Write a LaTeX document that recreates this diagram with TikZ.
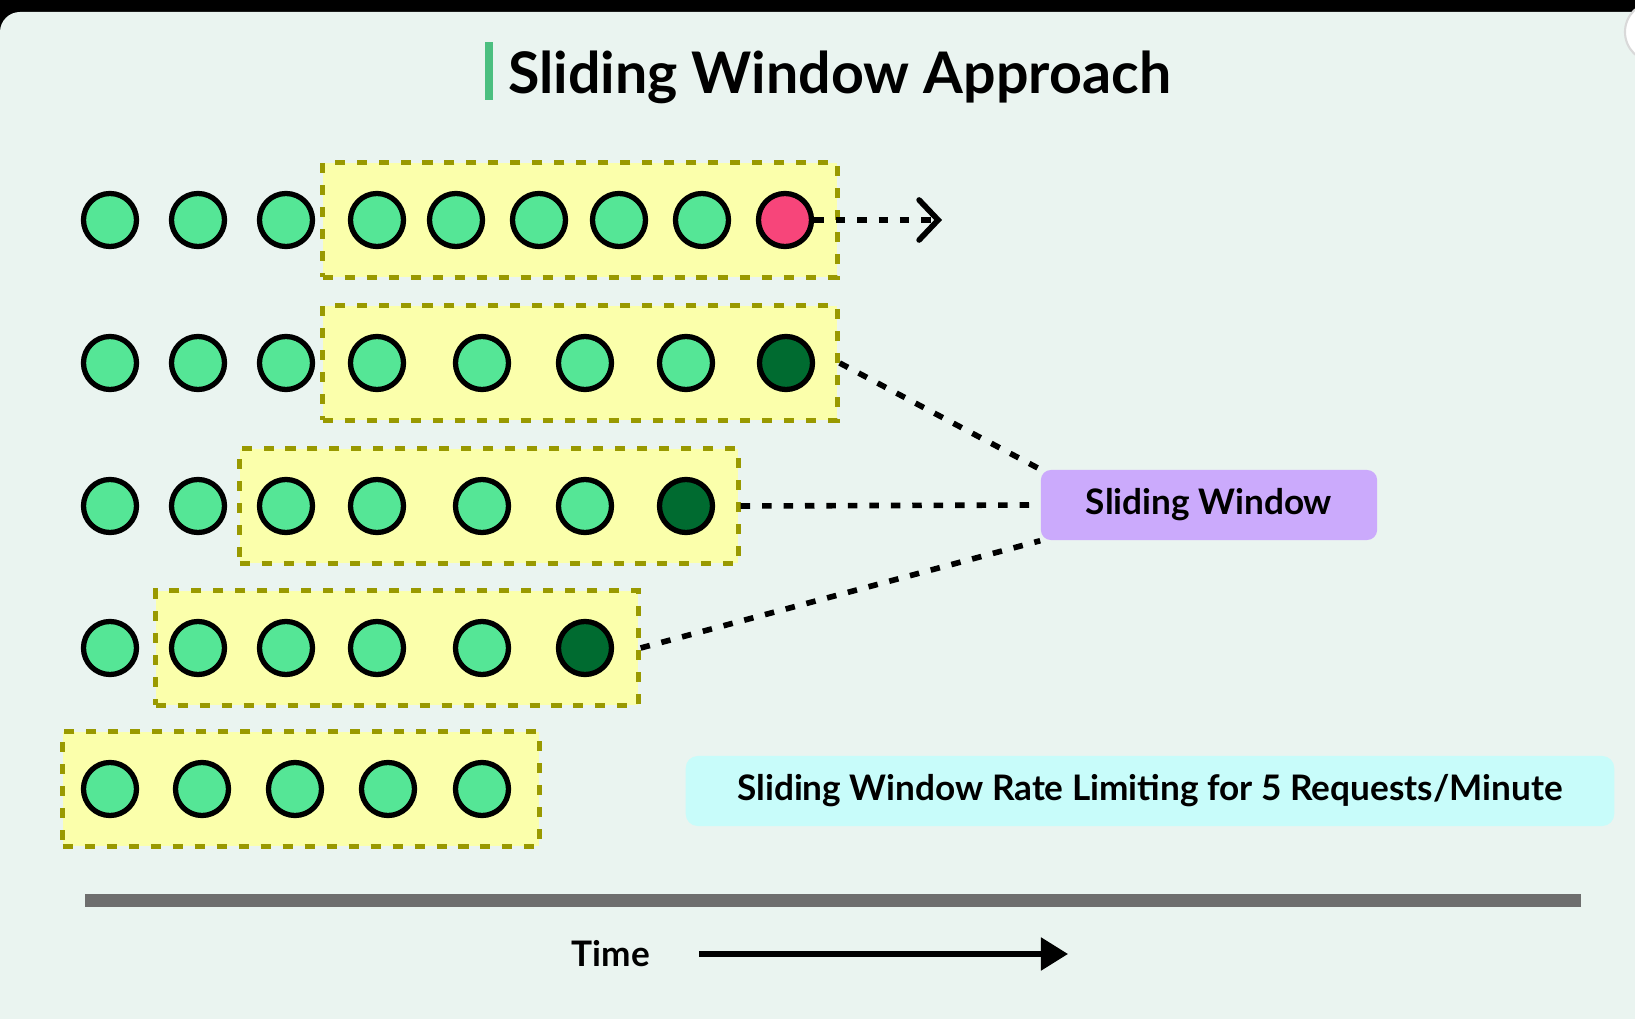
\documentclass[tikz,border=0pt]{standalone}
\usepackage{fontspec}
\setmainfont{Lato}
\usetikzlibrary{positioning,arrows.meta}

\definecolor{panel}{HTML}{EAF4F0}
\definecolor{reqgreen}{HTML}{55E696}
\definecolor{lastgreen}{HTML}{006B30}
\definecolor{dropred}{HTML}{F7457A}
\definecolor{winfill}{HTML}{FBFFAB}
\definecolor{windash}{HTML}{999900}
\definecolor{tagpurple}{HTML}{CBAAFC}
\definecolor{notecyan}{HTML}{C8FCFA}
\definecolor{axisgray}{HTML}{6E6E6E}
\definecolor{titlebar}{HTML}{4CBF80}

\tikzset{
  req/.style={circle,draw=black,line width=1.5pt,fill=reqgreen,minimum size=0.53cm,inner sep=0pt},
  reqlast/.style={req,fill=lastgreen},
  reqdrop/.style={req,fill=dropred},
  window/.style={draw=windash,fill=winfill,line width=1.42pt,dash pattern=on 2.85pt off 3.4pt,minimum height=1.14cm,inner sep=0pt},
  conn/.style={draw=black,line width=1.6pt,dash pattern=on 2.7pt off 3.4pt}
}

\begin{document}
\begin{tikzpicture}[x=0.01cm,y=-0.01cm,>=latex,font=\bfseries\fontsize{10}{12}\selectfont]
	\useasboundingbox (0,0) rectangle (1635,1019);
	\clip (0,0) rectangle (1635,1019);
	% backdrop
	\fill [black] (0,0) rectangle (1635,40);
	\fill [panel,rounded corners=0.2cm] (0,12) rectangle (1660,1040);
	\draw [fill=white,draw=black!15,line width=0.6pt] (1655,32) circle (0.3cm);

	% title
	\node [fill=titlebar,minimum width=0.08cm,minimum height=0.58cm,inner sep=0pt] at (489,71) (bar) {};
	\node [right=0.14cm of bar,yshift=-0.06cm,inner sep=0pt,font=\bfseries\fontsize{16.3}{19}\selectfont] (title) {Sliding Window Approach};

	% windows
	\node [window,minimum width=5.14cm] at (580,220) (w1) {};
	\node [window,minimum width=5.14cm] at (580,363) (w2) {};
	\node [window,minimum width=4.98cm] at (489,506) (w3) {};
	\node [window,minimum width=4.82cm] at (397,648) (w4) {};
	\node [window,minimum width=4.76cm] at (301,789) (w5) {};

	% requests, row 1
	\node [req] at (110,220) (q11) {};
	\node [req] at (198,220) (q12) {};
	\node [req] at (286,220) (q13) {};
	\node [req] at (377,220) (q14) {};
	\node [req] at (456,220) (q15) {};
	\node [req] at (539,220) (q16) {};
	\node [req] at (619,220) (q17) {};
	\node [req] at (702,220) (q18) {};
	\node [reqdrop] at (785,220) (q19) {};
	% row 2
	\node [req] at (110,363) (q21) {};
	\node [req] at (198,363) (q22) {};
	\node [req] at (286,363) (q23) {};
	\node [req] at (377,363) (q24) {};
	\node [req] at (482,363) (q25) {};
	\node [req] at (585,363) (q26) {};
	\node [req] at (686,363) (q27) {};
	\node [reqlast] at (786,363) (q28) {};
	% row 3
	\node [req] at (110,506) (q31) {};
	\node [req] at (198,506) (q32) {};
	\node [req] at (286,506) (q33) {};
	\node [req] at (377,506) (q34) {};
	\node [req] at (482,506) (q35) {};
	\node [req] at (585,506) (q36) {};
	\node [reqlast] at (686,506) (q37) {};
	% row 4
	\node [req] at (110,648) (q41) {};
	\node [req] at (198,648) (q42) {};
	\node [req] at (286,648) (q43) {};
	\node [req] at (377,648) (q44) {};
	\node [req] at (482,648) (q45) {};
	\node [reqlast] at (585,648) (q46) {};
	% row 5
	\node [req] at (110,789) (q51) {};
	\node [req] at (202,789) (q52) {};
	\node [req] at (295,789) (q53) {};
	\node [req] at (388,789) (q54) {};
	\node [req] at (482,789) (q55) {};

	% labels
	\node [fill=tagpurple,rounded corners=0.1cm,minimum width=3.36cm,minimum height=0.70cm] at (1209,505) (sw) {\raisebox{-0.4pt}{Sliding Window}};
	\node [fill=notecyan,rounded corners=0.12cm,minimum width=9.28cm,minimum height=0.70cm] at (1150,791) (note) {Sliding Window Rate Limiting for 5 Requests/Minute};

	% connectors
	\coordinate (drop) at (942,220);
	\draw [conn,-{Straight Barb[length=0.19cm,width=0.40cm,line cap=round]}] (q19) -- (drop);
	\draw [conn] (w2.east) -- (sw.north west);
	\draw [conn] (w3.east) -- (sw.west);
	\draw [conn] (w4.east) -- (sw.south west);

	% time axis
	\fill [axisgray] (85,894) rectangle (1581,907);
	\node at (611,954) (time) {Time};
	\coordinate (tstart) at (699,954);
	\coordinate (tend) at (1068,954);
	\draw [-{Triangle[length=0.27cm,width=0.32cm]},line width=1.5pt] (tstart) -- (tend);
\end{tikzpicture}
\end{document}
